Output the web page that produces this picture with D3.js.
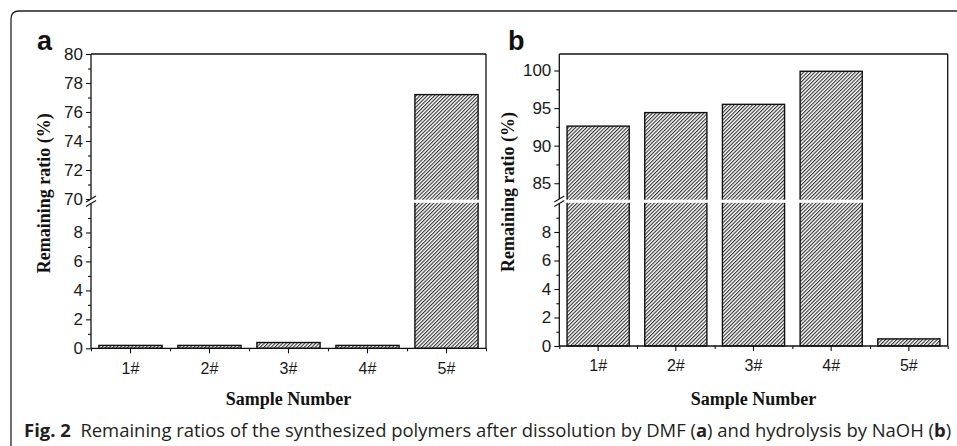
<!DOCTYPE html>
<html>
<head>
<meta charset="utf-8">
<script src="https://cdn.jsdelivr.net/npm/d3@7"></script>
<style>
  body { margin: 0; background: #fff; }
  svg { display: block; }
</style>
</head>
<body>
<svg id="chart" width="957" height="446"></svg>
<script>
// sample labels and remaining ratios
var samples = ["1#", "2#", "3#", "4#", "5#"];
var ratioDMF = [0.2, 0.2, 0.4, 0.2, 77.2];
var ratioNaOH = [92.6, 94.4, 95.5, 99.9, 0.5];

// axis ticks
var lowTicks = [0, 2, 4, 6, 8];
var lowMinor = [1, 3, 5, 7, 9];
var upTicksA = [70, 72, 74, 76, 78, 80];
var upMinorA = [71, 73, 75, 77, 79];
var upTicksB = [85, 90, 95, 100];
var upMinorB = [87.5, 92.5, 97.5];

var svg = d3.select("#chart");
var defs = svg.append("defs");

defs.append("pattern")
  .attr("id", "hatch")
  .attr("patternUnits", "userSpaceOnUse")
  .attr("width", 2.6)
  .attr("height", 2.6)
  .attr("patternTransform", "rotate(45)")
  .append("line")
  .attr("x1", 0.6).attr("y1", 0)
  .attr("x2", 0.6).attr("y2", 2.6)
  .attr("stroke", "#1a1a1a")
  .attr("stroke-width", 1);

// figure box (top-left rounded corner)
svg.append("path")
  .attr("d", "M11,446 V19 Q11,11 19,11 H957")
  .attr("fill", "none")
  .attr("stroke", "#222")
  .attr("stroke-width", 1.3);

var gapTop = 199, gapBot = 203.5;

function drawPanel(p) {
  var g = svg.append("g");

  var x = d3.scaleBand().domain(samples).range([p.x0, p.x1])
    .paddingInner(0.2).paddingOuter(0.1);
  var xb = d3.scaleLinear().domain([0, 5]).range([p.x0, p.x1]);
  var yLow = d3.scaleLinear().domain([0, 10]).range([p.base, gapBot]);
  var yUp = d3.scaleLinear().domain(p.upDomain).range([gapTop, p.top]);

  function yOf(v) { return v <= 10 ? yLow(v) : yUp(v); }

  // bars
  g.selectAll("rect.bar")
    .data(p.values)
    .enter().append("rect")
    .attr("class", "bar")
    .attr("x", function(d, i) { return x(samples[i]); })
    .attr("y", function(d) { return yOf(d); })
    .attr("width", x.bandwidth())
    .attr("height", function(d) { return p.base - yOf(d); })
    .attr("fill", "url(#hatch)")
    .attr("stroke", "#111")
    .attr("stroke-width", 1.4);

  // white gap through tall bars
  g.selectAll("rect.gap")
    .data(p.values.filter(function(d) { return d > 10; }))
    .enter().append("rect")
    .attr("x", function(d) { return x(samples[p.values.indexOf(d)]) - 1.5; })
    .attr("y", gapTop + 0.7)
    .attr("width", x.bandwidth() + 3)
    .attr("height", gapBot - gapTop - 1.4)
    .attr("fill", "#fff");

  // y axes, lower and upper segment
  function yAxis(scale, major, minor) {
    g.append("g")
      .attr("transform", "translate(" + p.x0 + ",0)")
      .call(d3.axisLeft(scale).tickValues(major).tickSize(5).tickPadding(3))
      .call(function(s) {
        s.select(".domain").remove();
        s.selectAll("text")
          .attr("font-family", "Liberation Sans, Arial, sans-serif")
          .attr("font-size", 17).attr("fill", "#1a1a1a");
        s.selectAll("line").attr("stroke", "#111").attr("stroke-width", 1.1);
      });
    g.append("g")
      .attr("transform", "translate(" + p.x0 + ",0)")
      .call(d3.axisLeft(scale).tickValues(minor).tickSize(3).tickFormat(""))
      .call(function(s) {
        s.select(".domain").remove();
        s.selectAll("line").attr("stroke", "#111").attr("stroke-width", 1.1);
      });
  }
  yAxis(yLow, lowTicks, lowMinor);
  yAxis(yUp, p.upTicks, p.upMinor);

  // x axis
  g.append("g")
    .attr("transform", "translate(0," + p.base + ")")
    .call(d3.axisBottom(x).tickSize(5).tickPadding(9))
    .call(function(s) {
      s.select(".domain").remove();
      s.selectAll("text")
        .attr("font-family", "Liberation Sans, Arial, sans-serif")
        .attr("font-size", 16).attr("fill", "#1a1a1a");
      s.selectAll("line").attr("stroke", "#111").attr("stroke-width", 1.1);
    });
  g.append("g")
    .attr("transform", "translate(0," + p.base + ")")
    .call(d3.axisBottom(xb).tickValues([0, 1, 2, 3, 4, 5]).tickSize(3).tickFormat(""))
    .call(function(s) {
      s.select(".domain").remove();
      s.selectAll("line").attr("stroke", "#111").attr("stroke-width", 1.1);
    });

  // frame lines
  var frame = [
    [p.x0, p.top, p.x1, p.top],
    [p.x1, p.top, p.x1, p.base],
    [p.x0, p.base, p.x1, p.base],
    [p.x0, p.top, p.x0, gapTop],
    [p.x0, gapBot, p.x0, p.base]
  ];
  g.selectAll("line.frame")
    .data(frame)
    .enter().append("line")
    .attr("x1", function(d) { return d[0]; })
    .attr("y1", function(d) { return d[1]; })
    .attr("x2", function(d) { return d[2]; })
    .attr("y2", function(d) { return d[3]; })
    .attr("stroke", "#111")
    .attr("stroke-width", 1.3);

  // break marks
  g.selectAll("line.brk")
    .data([gapTop, gapBot])
    .enter().append("line")
    .attr("x1", p.x0 - 5).attr("y1", function(d) { return d + 3; })
    .attr("x2", p.x0 + 5).attr("y2", function(d) { return d - 3; })
    .attr("stroke", "#111")
    .attr("stroke-width", 1.1);

  // axis titles
  g.append("text")
    .attr("transform", "translate(" + p.ylabX + "," + ((p.top + p.base) / 2 - 8) + ") rotate(-90)")
    .attr("text-anchor", "middle")
    .attr("font-family", "Liberation Serif, Times New Roman, serif")
    .attr("font-weight", "bold")
    .attr("font-size", 18)
    .attr("fill", "#111")
    .text("Remaining ratio (%)");

  g.append("text")
    .attr("x", (p.x0 + p.x1) / 2)
    .attr("y", 405)
    .attr("text-anchor", "middle")
    .attr("font-family", "Liberation Serif, Times New Roman, serif")
    .attr("font-weight", "bold")
    .attr("font-size", 18)
    .attr("fill", "#111")
    .text("Sample Number");

  g.append("text")
    .attr("x", p.tagX)
    .attr("y", 50)
    .attr("font-family", "Liberation Sans, Arial, sans-serif")
    .attr("font-weight", "bold")
    .attr("font-size", 27)
    .attr("fill", "#111")
    .text(p.tag);
}

drawPanel({
  tag: "a", tagX: 37, ylabX: 50,
  x0: 91, x1: 486, top: 54, base: 348.3,
  upDomain: [70, 80], upTicks: upTicksA, upMinor: upMinorA,
  values: ratioDMF
});

drawPanel({
  tag: "b", tagX: 508, ylabX: 514,
  x0: 559.3, x1: 947.7, top: 54, base: 346,
  upDomain: [82.9, 102.2], upTicks: upTicksB, upMinor: upMinorB,
  values: ratioNaOH
});

// caption
var cap = svg.append("text")
  .attr("x", 24)
  .attr("y", 437)
  .attr("font-family", "Open Sans, sans-serif")
  .attr("font-size", 18)
  .attr("fill", "#231f20");
cap.append("tspan").attr("font-weight", "bold").text("Fig. 2");
cap.append("tspan").text("\u00a0 Remaining ratios of the synthesized polymers after dissolution by DMF (");
cap.append("tspan").attr("font-weight", "bold").text("a");
cap.append("tspan").text(") and hydrolysis by NaOH (");
cap.append("tspan").attr("font-weight", "bold").text("b");
cap.append("tspan").text(")");

var capW = cap.node().getComputedTextLength();
var k = (952 - 24) / capW;
cap.attr("transform", "translate(24,0) scale(" + k + ",1) translate(-24,0)");
</script>
</body>
</html>
